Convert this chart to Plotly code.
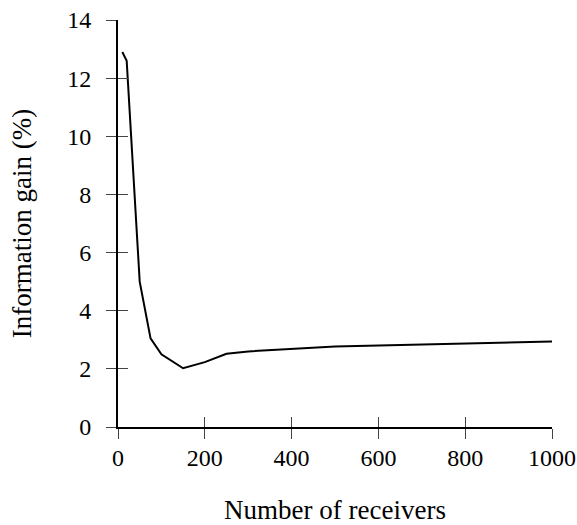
import plotly.graph_objects as go

receivers = [10, 20, 50, 75, 100, 150, 200, 250, 300, 500, 1000]
info_gain = [12.9, 12.6, 5.0, 3.05, 2.5, 2.02, 2.23, 2.52, 2.6, 2.77, 2.94]

x_ticks = [0, 200, 400, 600, 800, 1000]
y_ticks = [0, 2, 4, 6, 8, 10, 12, 14]

FONT = "Liberation Serif"

fig = go.Figure()
fig.add_trace(go.Scatter(x=receivers, y=info_gain, mode="lines",
                         line=dict(color="black", width=2), showlegend=False))

common = dict(showgrid=False, zeroline=False, ticklen=10, tickwidth=1, tickcolor="#444",
              automargin=False)
fig.update_layout(
    width=577, height=525,
    margin=dict(l=118, r=25, t=20, b=98),
    plot_bgcolor="white", paper_bgcolor="white",
    font=dict(family=FONT, size=24, color="black"),
    xaxis=dict(range=[0, 1000], tickvals=x_ticks, ticks="outside",
               showline=True, linecolor="black", linewidth=2,
               ticklabelstandoff=-2,
               title=dict(text="Number of receivers", standoff=39, font=dict(size=27)),
               **common),
    yaxis=dict(range=[0, 14], tickvals=y_ticks, ticks="outside",
               showline=True, linecolor="black", linewidth=2,
               ticklabelstandoff=10,
               title=dict(text="Information gain (%)", standoff=28, font=dict(size=27)),
               **common),
    xaxis2=dict(range=[0, 1000], tickvals=x_ticks, ticks="inside", overlaying="x",
                anchor="y", side="bottom", showticklabels=False, showline=False, **common),
    yaxis2=dict(range=[0, 14], tickvals=y_ticks, ticks="inside", overlaying="y",
                anchor="x", side="left", showticklabels=False, showline=False, **common),
)
fig.add_trace(go.Scatter(x=[None], y=[None], xaxis="x2", yaxis="y2", showlegend=False,
                         hoverinfo="skip"))
fig.write_html("out.html")
